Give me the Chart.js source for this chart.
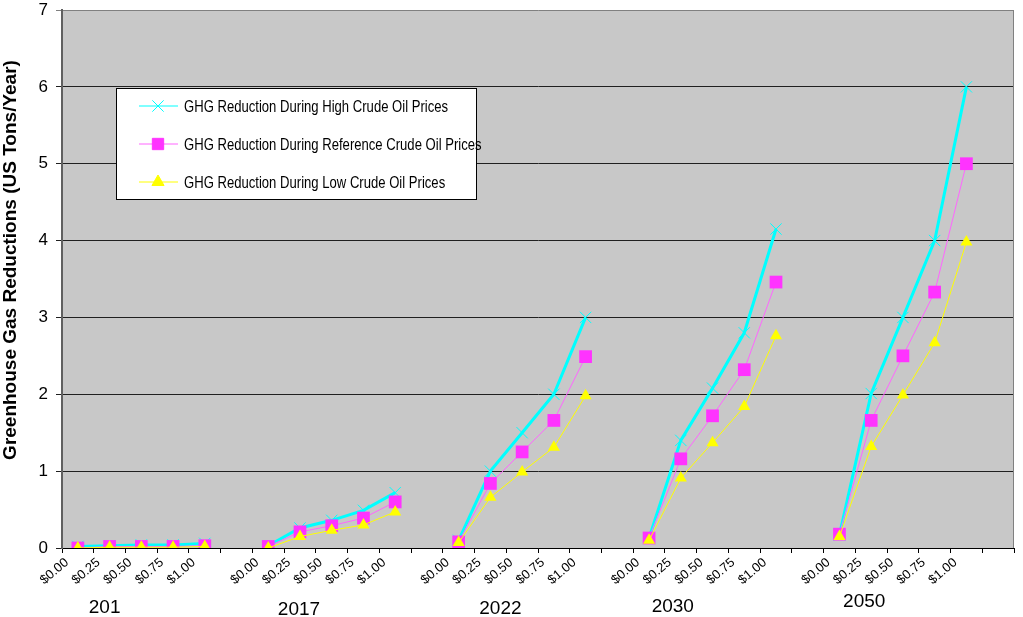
<!DOCTYPE html>
<html><head><meta charset="utf-8">
<script src="https://cdn.jsdelivr.net/npm/chart.js@4.4.1/dist/chart.umd.min.js"></script>
<style>html,body{margin:0;padding:0;background:#fff;} #wrap{width:1023px;height:617px;position:relative;}</style>
</head><body><div id="wrap"><canvas id="c" width="1023" height="617"></canvas></div>
<script>
// ---- data ----
const groups = ['201', '2017', '2022', '2030', '2050'];
const prices = ['$0.00', '$0.25', '$0.50', '$0.75', '$1.00'];
const seriesNames = [
  'GHG Reduction During High Crude Oil Prices',
  'GHG Reduction During Reference Crude Oil Prices',
  'GHG Reduction During Low Crude Oil Prices'
];
const high      = [0.02, 0.03, 0.04, 0.04, 0.06, null, 0.03, 0.26, 0.36, 0.49, 0.72, null, 0.10, 1.00, 1.50, 2.00, 3.00, null, 0.13, 1.40, 2.08, 2.80, 4.15, null, 0.17, 2.01, 3.00, 4.00, 6.00, null];
const reference = [0.00, 0.02, 0.02, 0.02, 0.03, null, 0.02, 0.21, 0.29, 0.39, 0.60, null, 0.08, 0.84, 1.25, 1.66, 2.49, null, 0.13, 1.16, 1.72, 2.32, 3.46, null, 0.18, 1.66, 2.50, 3.33, 5.00, null];
const low       = [0.00, 0.01, 0.01, 0.01, 0.02, null, 0.00, 0.15, 0.23, 0.30, 0.47, null, 0.07, 0.66, 0.99, 1.31, 1.98, null, 0.10, 0.91, 1.37, 1.84, 2.76, null, 0.15, 1.32, 1.99, 2.67, 3.98, null];
const yTicks = [0, 1, 2, 3, 4, 5, 6, 7];
const yTitle = 'Greenhouse Gas Reductions (US Tons/Year)';

// category labels: each group = 5 prices + one empty gap slot
const labels = [];
groups.forEach(() => { prices.forEach(p => labels.push(p)); labels.push(''); });

const FONT = "'Liberation Sans', Arial, sans-serif";

const decor = {
  id: 'decor',
  beforeDraw(chart) {
    const {ctx, chartArea: a} = chart;
    ctx.save();
    ctx.fillStyle = '#C8C8C8';
    ctx.fillRect(a.left, a.top, a.right - a.left, a.bottom - a.top);
    ctx.restore();
  },
  afterDraw(chart) {
    const {ctx, chartArea: a} = chart;
    const xs = chart.scales.x;
    ctx.save();
    // right border of plot
    ctx.strokeStyle = '#808080';
    ctx.lineWidth = 1;
    ctx.beginPath();
    ctx.moveTo(a.right - 0.5, a.top); ctx.lineTo(a.right - 0.5, a.bottom);
    ctx.stroke();
    // y axis title
    ctx.fillStyle = '#000';
    ctx.font = "bold 19px " + FONT;
    ctx.textAlign = 'center';
    ctx.textBaseline = 'middle';
    ctx.translate(11, 260);
    ctx.rotate(-Math.PI / 2);
    ctx.fillText(yTitle, 0, 0);
    ctx.restore();

    // group (year) labels
    const dx = [-5, -1, 10, -8, -7];
    const yy = [608, 610, 609, 607, 602];
    ctx.save();
    ctx.fillStyle = '#000';
    ctx.font = "19px " + FONT;
    ctx.textAlign = 'center';
    ctx.textBaseline = 'middle';
    groups.forEach((g, k) => {
      const x = xs.getPixelForValue(k * 6 + 1) + dx[k];
      ctx.fillText(g, x, yy[k]);
    });
    ctx.restore();

    // legend
    const L = {x: 116, y: 88, w: 360, h: 111};
    ctx.save();
    ctx.fillStyle = '#fff';
    ctx.fillRect(L.x, L.y, L.w, L.h);
    ctx.strokeStyle = '#000';
    ctx.lineWidth = 1;
    ctx.strokeRect(L.x + 0.5, L.y + 0.5, L.w, L.h);
    ctx.textBaseline = 'middle';
    ctx.textAlign = 'left';
    chart.data.datasets.forEach((ds, i) => {
      const cy = 106 + i * 38;
      ctx.strokeStyle = ds.borderColor;
      ctx.lineWidth = ds.legendLineWidth;
      ctx.beginPath();
      ctx.moveTo(139, cy); ctx.lineTo(178, cy);
      ctx.stroke();
      ctx.fillStyle = ds.pointBackgroundColor;
      ctx.strokeStyle = ds.pointBorderColor;
      ctx.lineWidth = 1;
      Chart.helpers.drawPoint(ctx, {pointStyle: ds.pointStyle, rotation: 0, radius: ds.legendRadius, borderWidth: 1}, 158, cy);
      ctx.save();
      ctx.fillStyle = '#000';
      ctx.font = "17px " + FONT;
      ctx.translate(184, cy + 1);
      ctx.scale(0.77, 1);
      ctx.fillText(ds.label, 0, 0);
      ctx.restore();
    });
    ctx.restore();
  }
};

new Chart(document.getElementById('c'), {
  type: 'line',
  data: {
    labels: labels,
    datasets: [
      {
        label: seriesNames[0], data: high,
        borderColor: '#00FFFF', borderWidth: 3, legendLineWidth: 1,
        pointStyle: 'crossRot', pointRadius: 8, pointBorderColor: '#00FFFF', pointBackgroundColor: '#00FFFF', pointBorderWidth: 1,
        legendRadius: 8, order: 3
      },
      {
        label: seriesNames[1], data: reference,
        borderColor: '#FF66FF', borderWidth: 1, legendLineWidth: 1,
        pointStyle: 'rect', pointRadius: 9, pointBorderColor: '#FF33FF', pointBackgroundColor: '#FF33FF', pointBorderWidth: 0,
        legendRadius: 8, order: 2
      },
      {
        label: seriesNames[2], data: low,
        borderColor: '#FFFF00', borderWidth: 1, legendLineWidth: 1,
        pointStyle: 'triangle', pointRadius: 7, pointBorderColor: '#FFFF00', pointBackgroundColor: '#FFFF00', pointBorderWidth: 0,
        legendRadius: 7, order: 1
      }
    ]
  },
  options: {
    responsive: false,
    animation: false,
    layout: {padding: {top: 10, right: 2, left: 0, bottom: 0}},
    plugins: {legend: {display: false}, tooltip: {enabled: false}},
    elements: {line: {tension: 0}},
    scales: {
      x: {
        type: 'category',
        offset: true,
        grid: {offset: true, drawOnChartArea: false, drawTicks: true, tickLength: 5, color: '#000'},
        border: {color: '#000', width: 1},
        ticks: {
          autoSkip: false, maxRotation: 40, minRotation: 40,
          font: {size: 13, family: FONT}, color: '#000', padding: 2, labelOffset: -11
        },
        afterFit(s) { s.height = 69; s.paddingLeft = 0; s.paddingRight = 0; }
      },
      y: {
        min: 0, max: 7,
        afterBuildTicks(s) { s.ticks = yTicks.map(v => ({value: v})); },
        grid: {
          color: (c) => (c.tick && c.tick.value === 7) ? '#808080' : '#202020',
          lineWidth: 1, drawTicks: true, tickLength: 6
        },
        border: {color: '#606060', width: 2},
        ticks: {font: {size: 17, family: FONT}, color: '#000', padding: 8},
        afterFit(s) { s.width = 62; s.paddingTop = 0; s.paddingBottom = 0; }
      }
    }
  },
  plugins: [decor]
});
</script>
</body></html>
